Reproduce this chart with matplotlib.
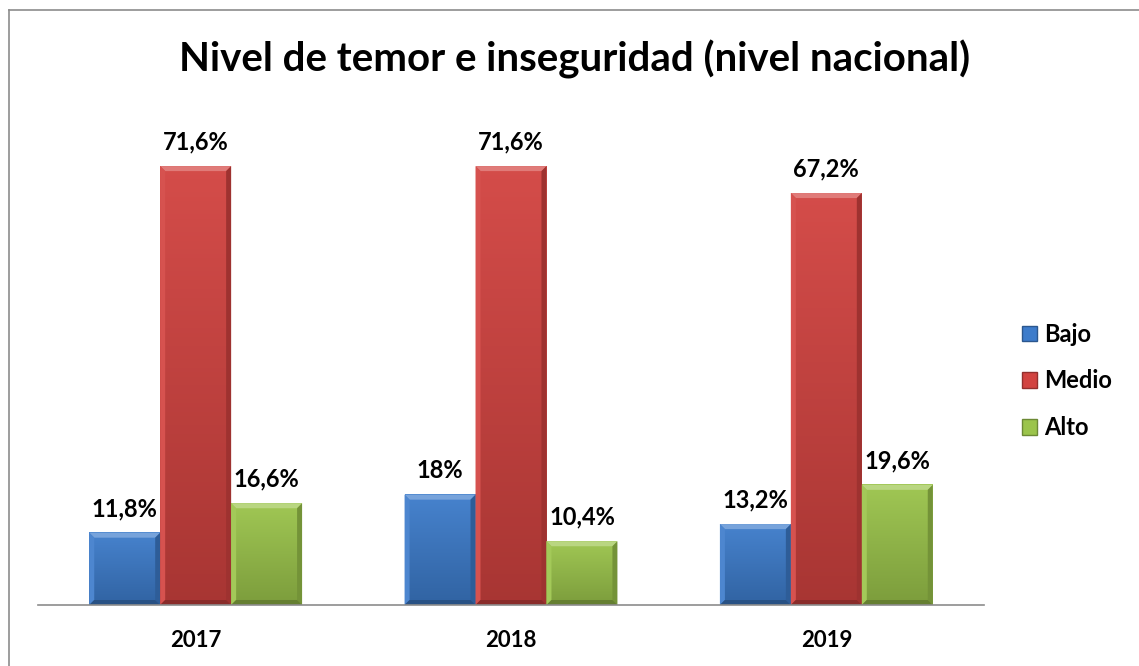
import numpy as np
import matplotlib
matplotlib.use("Agg")
import matplotlib.pyplot as plt
from matplotlib.patches import Polygon, Patch
from matplotlib.lines import Line2D
from matplotlib.colors import to_rgb

plt.rcParams['font.family'] = ['Lato', 'DejaVu Sans']

# data
years = ['2017', '2018', '2019']
series = ['Bajo', 'Medio', 'Alto']
bajo = [11.8, 18.0, 13.2]
medio = [71.6, 71.6, 67.2]
alto = [16.6, 10.4, 19.6]
labels_bajo = ['11,8%', '18%', '13,2%']
labels_medio = ['71,6%', '71,6%', '67,2%']
labels_alto = ['16,6%', '10,4%', '19,6%']

colors = ['#3d7ccb', '#d24340', '#9bc44b']

W, H = 1139, 666
fig = plt.figure(figsize=(W / 100, H / 100), dpi=100)

# axes placed in pixel terms
left, right, bottom, top = 38, 984, 605, 110
ax = fig.add_axes([left / W, 1 - bottom / H, (right - left) / W, (bottom - top) / H])
ax.set_xlim(-0.5, 2.5)
ax.set_ylim(0, (bottom - top) / 6.13)


def shade(c, f):
    r = np.array(to_rgb(c))
    if f >= 0:
        return tuple(r + (1 - r) * f)
    return tuple(r * (1 + f))


def bevel_bar(ax, x0, w, h, c):
    # pixel -> data scale
    px_x = (ax.get_xlim()[1] - ax.get_xlim()[0]) / (right - left)
    px_y = (ax.get_ylim()[1] - ax.get_ylim()[0]) / (bottom - top)
    bx, by = 5 * px_x, 5 * px_y
    x1 = x0 + w
    grad = np.linspace(0, 1, 100)[:, None]
    top_c = np.array(shade(c, 0.05))
    bot_c = np.array(shade(c, -0.2))
    img = top_c[None, None, :] * (1 - grad[..., None]) + bot_c[None, None, :] * grad[..., None]
    ax.imshow(img, extent=(x0, x1, 0, h), aspect='auto', origin='upper', zorder=2)
    # bevel edges
    ax.add_patch(Polygon([(x0, h), (x1, h), (x1 - bx, h - by), (x0 + bx, h - by)],
                         closed=True, fc=shade(c, 0.3), ec='none', zorder=3))
    ax.add_patch(Polygon([(x0, 0), (x0, h), (x0 + bx, h - by), (x0 + bx, by)],
                         closed=True, fc=shade(c, 0.08), ec='none', zorder=3))
    ax.add_patch(Polygon([(x1, 0), (x1, h), (x1 - bx, h - by), (x1 - bx, by)],
                         closed=True, fc=shade(c, -0.25), ec='none', zorder=3))
    ax.add_patch(Polygon([(x0, 0), (x1, 0), (x1 - bx, by), (x0 + bx, by)],
                         closed=True, fc=shade(c, -0.35), ec='none', zorder=3))


bw = 0.225
x = np.arange(len(years))
all_vals = [bajo, medio, alto]
all_labels = [labels_bajo, labels_medio, labels_alto]
for i, (vals, labs) in enumerate(zip(all_vals, all_labels)):
    xs = x + (i - 1) * bw
    for xc, v, lab in zip(xs, vals, labs):
        bevel_bar(ax, xc - bw / 2, bw, v, colors[i])
        ax.annotate(lab, (xc, v), xytext=(0, 12), textcoords='offset points',
                    ha='center', va='baseline', fontsize=17, fontweight='bold')

for s in ['top', 'right', 'left']:
    ax.spines[s].set_visible(False)
ax.spines['bottom'].set_color('#8c8c8c')
ax.spines['bottom'].set_linewidth(1.2)
ax.spines['bottom'].set_zorder(4)
ax.set_yticks([])
ax.set_xticks(x)
ax.set_xticklabels(years, fontsize=16, fontweight='bold')
ax.tick_params(axis='x', length=0, pad=18)

fig.text(575 / W, 1 - 59 / H, 'Nivel de temor e inseguridad (nivel nacional)',
         ha='center', va='center', fontsize=29, fontweight='bold')

handles = [Patch(facecolor=c, edgecolor=shade(c, -0.3)) for c in colors]
fig.legend(handles, series, loc='center left', bbox_to_anchor=(1022 / W, 1 - 381 / H),
           frameon=False, prop={'size': 17, 'weight': 'bold'}, handlelength=0.65,
           handleheight=0.65, handletextpad=0.3, labelspacing=1.0,
           borderpad=0, borderaxespad=0)

# chart frame (top and left edges)
fig.add_artist(Line2D([9 / W, 9 / W], [0, 1 - 10 / H], color='#8c8c8c', lw=1.2,
                      transform=fig.transFigure))
fig.add_artist(Line2D([9 / W, 1], [1 - 10 / H, 1 - 10 / H], color='#8c8c8c', lw=1.2,
                      transform=fig.transFigure))

fig.savefig('out.png', dpi=100)
